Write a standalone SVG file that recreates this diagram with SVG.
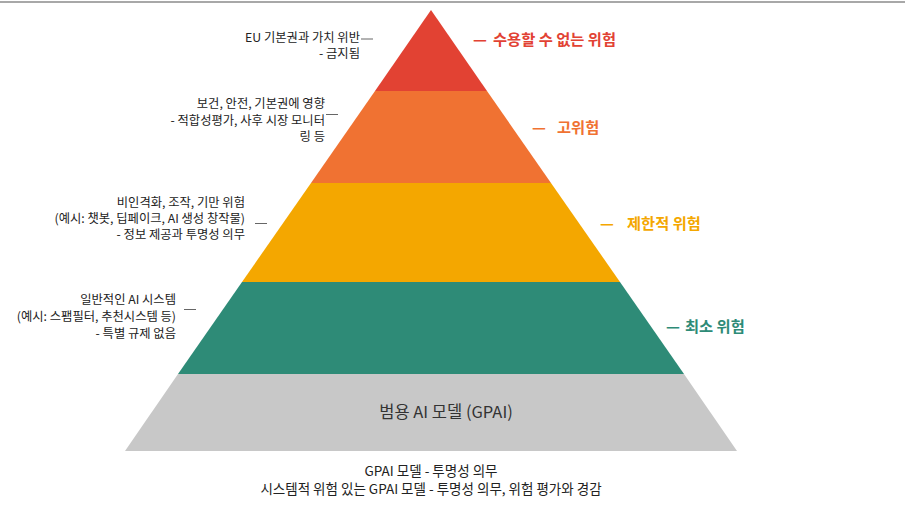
<svg xmlns="http://www.w3.org/2000/svg" width="905" height="506" viewBox="0 0 905 506">
<style>
.lbl{font-family:"Noto Sans CJK KR","Noto Sans",sans-serif;font-size:12.3px;fill:#222;text-anchor:end}
.lvl{font-family:"Noto Sans CJK KR","Noto Sans",sans-serif;font-size:15.3px;font-weight:bold}
.bot{font-family:"Noto Sans CJK KR","Noto Sans",sans-serif;font-size:13.5px;fill:#222;text-anchor:middle}
.dash{stroke:#666;stroke-width:1}
</style>
<rect x="0" y="0" width="905" height="506" fill="#ffffff"/>
<rect x="0" y="1" width="905" height="2" fill="#a8a8a8"/>
<g id="tier-unacceptable">
<polygon points="431,10 487,91 375,91" fill="#E24233"/>
<text class="lvl" fill="#E24233" y="45"><tspan x="473">—</tspan><tspan x="493">수용할 수 없는 위험</tspan></text>
<text class="lbl" y="42"><tspan x="360">EU 기본권과 가치 위반</tspan><tspan x="360" dy="16">- 금지됨</tspan></text>
</g>
<g id="tier-high">
<polygon points="375,91 487,91 551,183 311,183" fill="#F07232"/>
<text class="lvl" fill="#F07232" y="133"><tspan x="532">—</tspan><tspan x="557">고위험</tspan></text>
<text class="lbl" y="108"><tspan x="325">보건, 안전, 기본권에 영향</tspan><tspan x="325" dy="16.5">- 적합성평가, 사후 시장 모니터</tspan><tspan x="325" dy="16.5">링 등</tspan></text>
</g>
<g id="tier-limited">
<polygon points="311,183 551,183 620,282 242,282" fill="#F4A700"/>
<text class="lvl" fill="#F4A700" y="229"><tspan x="600">—</tspan><tspan x="627">제한적 위험</tspan></text>
<text class="lbl" y="207"><tspan x="245">비인격화, 조작, 기만 위험</tspan><tspan x="245" dy="16">(예시: 챗봇, 딥페이크, AI 생성 창작물)</tspan><tspan x="245" dy="16">- 정보 제공과 투명성 의무</tspan></text>
</g>
<g id="tier-minimal">
<polygon points="242,282 620,282 684,374 178,374" fill="#2E8B77"/>
<text class="lvl" fill="#2E8B77" y="332"><tspan x="666">—</tspan><tspan x="685">최소 위험</tspan></text>
<text class="lbl" y="304"><tspan x="176">일반적인 AI 시스템</tspan><tspan x="176" dy="17">(예시: 스팸필터, 추천시스템 등)</tspan><tspan x="176" dy="17">- 특별 규제 없음</tspan></text>
</g>
<g id="tier-gpai">
<polygon points="178,374 684,374 737,451 125,451" fill="#C8C8C8"/>
<text x="446" y="418" font-family="&quot;Noto Sans CJK KR&quot;,&quot;Noto Sans&quot;,sans-serif" font-size="16.5" fill="#333" text-anchor="middle">범용 AI 모델 (GPAI)</text>
<text class="bot" y="476"><tspan x="431">GPAI 모델 - 투명성 의무</tspan><tspan x="431" dy="18">시스템적 위험 있는 GPAI 모델 - 투명성 의무, 위험 평가와 경감</tspan></text>
</g>
<g id="connectors">
<line class="dash" x1="361" y1="39" x2="373" y2="39"/>
<line class="dash" x1="326" y1="114.5" x2="338" y2="114.5"/>
<line class="dash" x1="255" y1="223.5" x2="267" y2="223.5"/>
<line class="dash" x1="184" y1="309.5" x2="196" y2="309.5"/>
</g>
</svg>
